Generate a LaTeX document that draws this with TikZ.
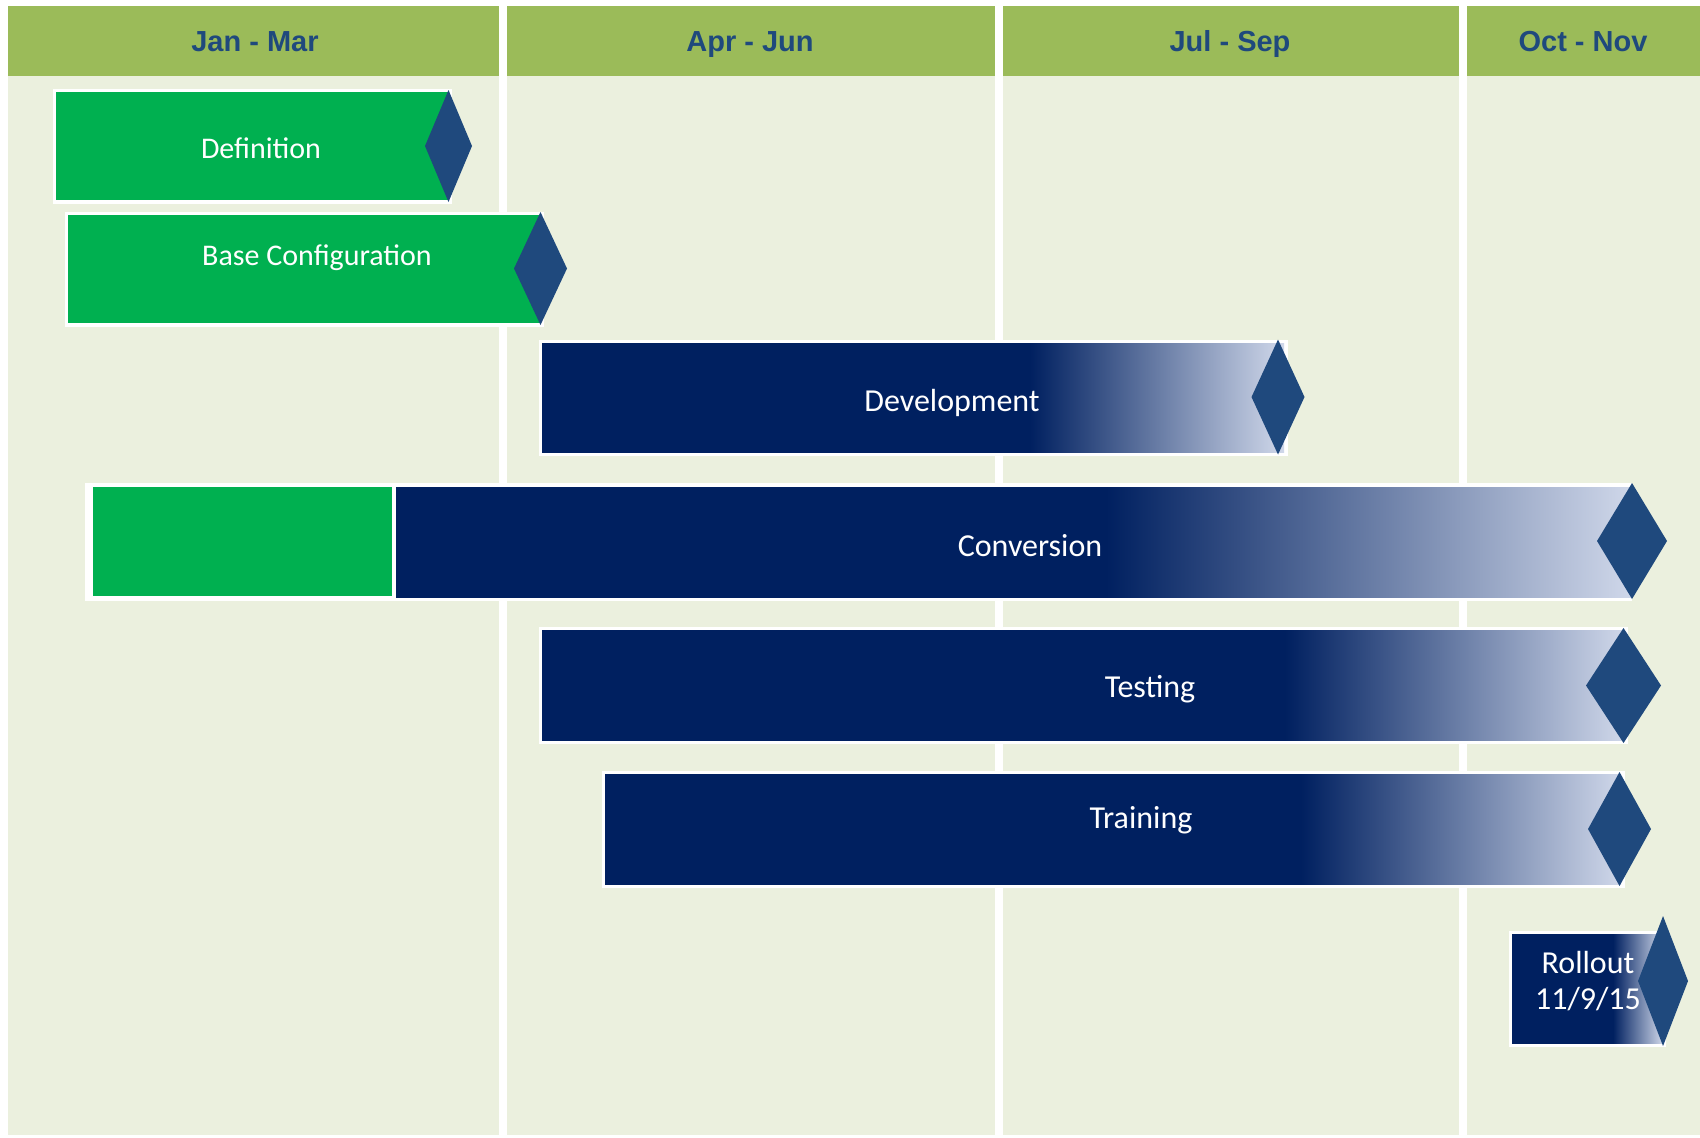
\documentclass[tikz,border=0pt]{standalone}
\usepackage{fontspec}
\setmainfont{Carlito}
\newfontfamily\hdrfont{Liberation Sans}
\definecolor{hdrgreen}{RGB}{155,187,89}
\definecolor{bgbeige}{RGB}{235,240,222}
\definecolor{barnavy}{RGB}{0,32,96}
\definecolor{bargreen}{RGB}{0,176,80}
\definecolor{diamblue}{RGB}{31,73,125}
\definecolor{fadeend}{RGB}{208,216,234}
\newcommand\mstone[4]{\fill[diam] ({#1-#3},{#2}) -- ({#1},{#2-#4}) -- ({#1+#3},{#2}) -- ({#1},{#2+#4}) -- cycle;}
\newcommand\fadebar[5]{% x1 y1 xg x2 y2
  \fill[framew] ({#1-3.5},{#2-3.5}) rectangle ({#4+3.5},{#5+3.5});
  \begin{scope}
  \clip (#1,#2) rectangle (#4,#5);
  \fill[navybar] ({#1-5},{#2-5}) rectangle ({#3+2},{#5+5});
  \shade[left color=barnavy, right color=fadeend] (#3,{#2-5}) rectangle ({#4+1},{#5+5});
  \end{scope}}
\begin{document}
\begin{tikzpicture}[x=0.5pt,y=-0.5pt,
  colbg/.style={fill=bgbeige},
  hdr/.style={fill=hdrgreen},
  hdrtext/.style={font=\hdrfont\bfseries\fontsize{14.5}{17}\selectfont, text=diamblue, anchor=base, inner sep=0pt},
  bartext/.style={font=\fontsize{15}{17.5}\selectfont, text=white, anchor=base, inner sep=0pt},
  bigtext/.style={bartext, font=\fontsize{16}{19}\selectfont},
  framew/.style={fill=white},
  navybar/.style={fill=barnavy},
  greenbar/.style={fill=bargreen},
  diam/.style={fill=diamblue}]
\useasboundingbox (0,0) rectangle (1700,1137);
\fill[white] (0,0) rectangle (1700,1137);
% columns
\fill[colbg] (7.5,5.5) rectangle (499,1135);
\fill[colbg] (507,5.5) rectangle (995,1135);
\fill[colbg] (1003,5.5) rectangle (1459,1135);
\fill[colbg] (1467,5.5) rectangle (1700,1135);
\fill[hdr] (7.5,5.5) rectangle (499,76);
\fill[hdr] (507,5.5) rectangle (995,76);
\fill[hdr] (1003,5.5) rectangle (1459,76);
\fill[hdr] (1467,5.5) rectangle (1700,76);
\node[hdrtext] (h1) at (255,51) {Jan - Mar};
\node[hdrtext] (h2) at (750,51) {Apr - Jun};
\node[hdrtext] (h3) at (1230,51) {Jul - Sep};
\node[hdrtext] (h4) at (1583,51) {Oct - Nov};
% Definition
\fill[framew] (52.5,88.5) rectangle (451.5,203.5);
\fill[greenbar] (56,92) rectangle (448,200);
\mstone{448.5}{146}{23.5}{56}
\node[bartext] (def) at (261,158) {Definition};
% Base configuration
\fill[framew] (64.5,211.5) rectangle (543.5,326.5);
\fill[greenbar] (68,215) rectangle (540,323);
\mstone{540.5}{268.5}{26.5}{56.5}
\node[bartext] (base) at (317,265.5) {Base Configuration};
% Development
\fadebar{542}{343}{1030}{1284}{452}
\mstone{1278}{397}{26.5}{57.5}
\node[bigtext] (dev) at (952,411.5) {Development};
% Conversion
\fill[framew] (85,483) rectangle (1632,601);
\fill[greenbar] (93,487) rectangle (392,596);
\begin{scope}
\clip (396,487) rectangle (1632,597);
\fill[navybar] (390,480) rectangle (1108,600);
\shade[left color=barnavy, right color=fadeend] (1106,480) rectangle (1633,600);
\end{scope}
\mstone{1632}{541}{35}{58}
\node[bigtext] (conv) at (1030,556.5) {Conversion};
% Testing
\fadebar{542}{630}{1285}{1624}{740}
\mstone{1623.5}{685.5}{37.5}{57.5}
\node[bigtext] (test) at (1150,697.5) {Testing};
% Training
\fadebar{605}{774}{1301}{1621}{884}
\mstone{1619.5}{829}{31.5}{57}
\node[bigtext] (train) at (1141,828.5) {Training};
% Rollout
\fadebar{1512}{934}{1613}{1662}{1043}
\mstone{1663}{981}{25}{65}
\node[bigtext] (roll) at (1588,973) {Rollout};
\node[bigtext] (rolldate) at (1588,1009) {11/9/15};
\end{tikzpicture}
\end{document}
